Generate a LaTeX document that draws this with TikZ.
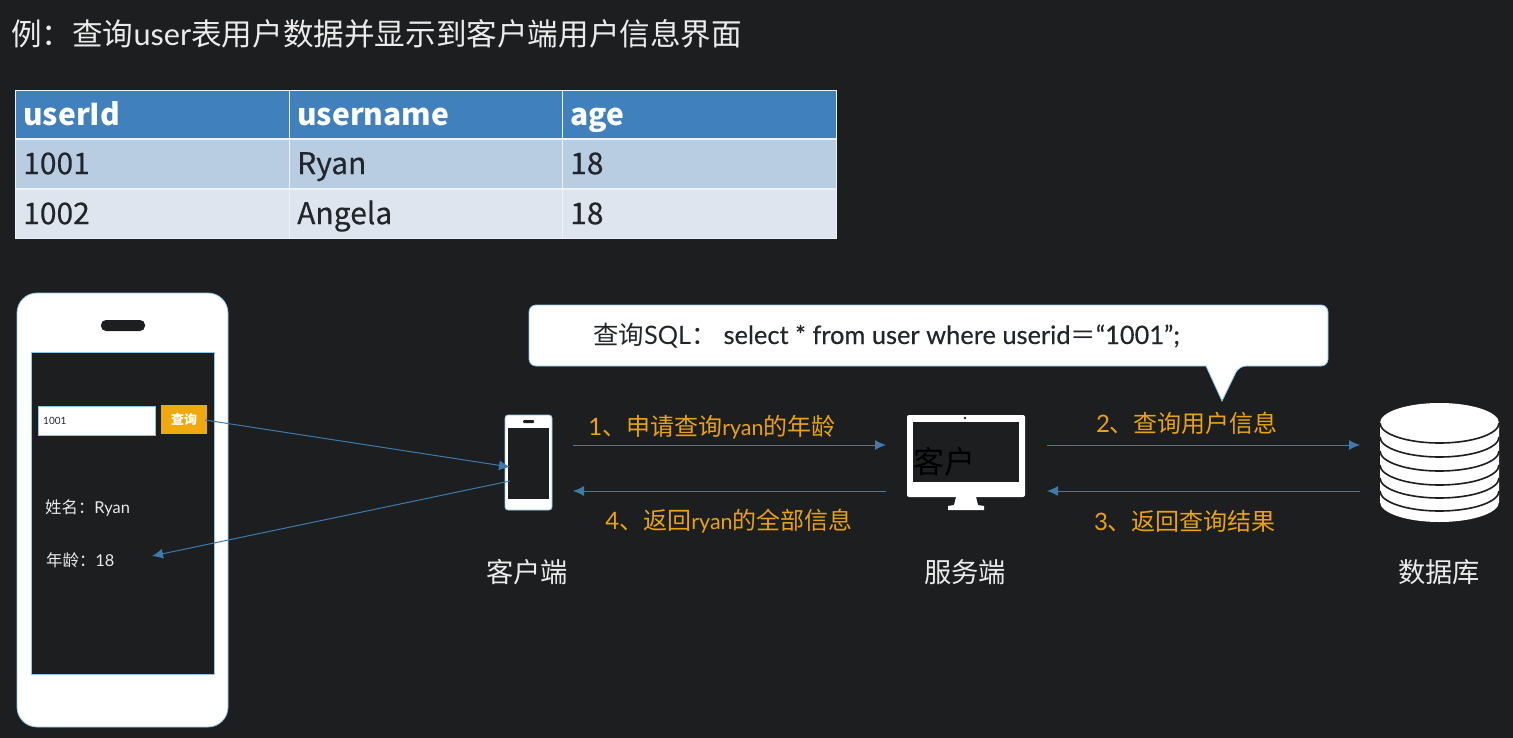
\documentclass[tikz,border=0pt]{standalone}
\usepackage{fontspec}
\setmainfont{Lato}
\newfontfamily\cjk{Noto Sans CJK SC}
\newfontfamily\cjkmed[FakeBold=0.25]{Noto Sans CJK SC}
\newfontfamily\latomed[FakeBold=0.3]{Lato}
\usetikzlibrary{arrows.meta}
\definecolor{bgc}{HTML}{1C1E1F}
\definecolor{hdrc}{HTML}{3F80BD}
\definecolor{rowa}{HTML}{B9CDE2}
\definecolor{rowb}{HTML}{DEE5EE}
\definecolor{linec}{HTML}{3F7AAE}
\definecolor{orangec}{HTML}{E8A214}
\definecolor{btnc}{HTML}{F0A80F}
\definecolor{edgec}{HTML}{8CC6EA}
\definecolor{inkc}{HTML}{22262A}
\tikzset{
  cellbox/.style={anchor=north west,inner ysep=0pt,inner xsep=7pt,align=left,text height=23pt,text depth=3pt,font=\cjkmed\fontsize{30}{30}\selectfont},
  hdrcell/.style={cellbox,fill=hdrc,text=white,text height=24pt,text depth=2pt,font=\cjk\bfseries\fontsize{30}{30}\selectfont},
  rowacell/.style={cellbox,fill=rowa,text=inkc},
  rowbcell/.style={cellbox,fill=rowb,text=inkc},
  shapewhite/.style={fill=white,draw=edgec,line width=0.8pt},
  flow/.style={draw=linec,line width=1pt,-{Latex[length=11pt,width=10pt]}},
  orangelabel/.style={text=orangec,inner sep=0pt,font=\fontsize{24}{24}\selectfont},
  rolelabel/.style={text=white!92!black,inner sep=0pt,font=\cjk\fontsize{27.3}{27.3}\selectfont},
  smalltext/.style={text=white!92!black,inner sep=0pt,anchor=west,font=\fontsize{16.4}{16.4}\selectfont},
}
\newcommand{\ryanword}{{\fontsize{21.5}{21.5}\selectfont ryan}}
\begin{document}
\begin{tikzpicture}[x=1pt,y=-1pt]
\useasboundingbox (0,0) rectangle (1513,738);
\fill[bgc] (0,0) rectangle (1513,738);
% title
\node[anchor=west,inner sep=0pt,text=white!92!black,font=\fontsize{30.6}{30.6}\selectfont] (title) at (11,34) {{\cjk 例：查询}user{\cjk 表用户数据并显示到客户端用户信息界面}};
% table
\fill[white!90!hdrc] (15,90) rectangle (837,239);
\node[hdrcell,text width=259pt,minimum height=47pt] (h1) at (16,91) {userId};
\node[hdrcell,text width=258pt,minimum height=47pt] (h2) at (290,91) {username};
\node[hdrcell,text width=259pt,minimum height=47pt] (h3) at (563,91) {age};
\node[rowacell,text width=259pt,minimum height=48pt] (a1) at (16,140) {1001};
\node[rowacell,text width=258pt,minimum height=48pt] (a2) at (290,140) {Ryan};
\node[rowacell,text width=259pt,minimum height=48pt] (a3) at (563,140) {18};
\node[rowbcell,text width=259pt,minimum height=48pt] (b1) at (16,190) {1002};
\node[rowbcell,text width=258pt,minimum height=48pt] (b2) at (290,190) {Angela};
\node[rowbcell,text width=259pt,minimum height=48pt] (b3) at (563,190) {18};
% big phone
\draw[shapewhite,rounded corners=20pt] (17,293) rectangle (228,727);
\fill[bgc,rounded corners=5pt] (101,320) rectangle (145,331);
\filldraw[fill=bgc,draw=edgec,line width=0.8pt] (31,352) rectangle (214,674);
\node[anchor=north west,fill=white,draw=edgec,line width=1.2pt,minimum width=117pt,minimum height=29pt,inner sep=0pt] (inputbox) at (37.5,406) {};
\node[anchor=west,inner sep=0pt,text=inkc,font=\fontsize{10}{10}\selectfont] (inputtext) at (43,421) {1001};
\node[anchor=north west,fill=btnc,minimum width=46pt,minimum height=29pt,inner sep=0pt,text=white,font=\cjk\bfseries\fontsize{13}{13}\selectfont] (querybtn) at (161,405) {查询};
\node[smalltext] (namelabel) at (45,508) {{\cjk 姓名：}Ryan};
\node[smalltext] (agelabel) at (46,560) {{\cjk 年龄：}18};
% small phone
\draw[shapewhite,rounded corners=3pt] (505,415) rectangle (552,510);
\fill[bgc] (508,428) rectangle (549,499);
\fill[bgc,rounded corners=1pt] (523,420) rectangle (534,423);
\coordinate (phonein) at (510,467);
\coordinate (phoneout) at (510,481);
\coordinate (ageend) at (152,556);
\coordinate (btnstart) at (205,420);
\draw[flow] (btnstart) -- (phonein);
\draw[flow] (phoneout) -- (ageend);
% monitor
\fill[white,rounded corners=2pt] (907,415) rectangle (1025,497);
\fill[white] (956,497) -- (976,497) -- (978,505) -- (984,506) -- (984,510) -- (948,510) -- (948,506) -- (954,505) -- cycle;
\fill[bgc] (913,422) rectangle (1019,482);
\fill[bgc] (965,418) circle (1.3pt);
\node[anchor=west,inner sep=0pt,text=black,font=\cjk\fontsize{31}{31}\selectfont] (servertext) at (913,462) {客户};
% database
\begin{scope}
\fill[white] (1380,423) -- (1380,502) arc[start angle=180,end angle=360,x radius=59.5pt,y radius=20pt] -- (1499,423) arc[start angle=0,end angle=180,x radius=59.5pt,y radius=20pt] -- cycle;
\foreach \yy in {443,457,471,485,498,511}{
  \draw[bgc,line width=1.6pt] (1380,\yy-20) arc[start angle=180,end angle=360,x radius=59.5pt,y radius=20pt];
}
\end{scope}
% callout
\draw[shapewhite,rounded corners=7pt] (529,305) -- (1328,305) -- (1328,366) -- (1239,366) [sharp corners] -- (1222,401) -- (1206,366) [rounded corners=7pt] -- (529,366) -- cycle;
\node[anchor=base west,inner sep=0pt,text=inkc,font=\fontsize{25.4}{25.4}\selectfont] (sqltext) at (593,344) {{\cjk 查询}SQL{\cjk ：}\hspace{7pt}{\latomed select * from user where userid}{\cjk ＝}{\latomed “1001”;}};
% flows
\coordinate (f1a) at (573,445); \coordinate (f1b) at (886,445);
\coordinate (f4a) at (886,491); \coordinate (f4b) at (573,491);
\coordinate (f2a) at (1047,445); \coordinate (f2b) at (1360,445);
\coordinate (f3a) at (1360,491); \coordinate (f3b) at (1047,491);
\draw[flow] (f1a) -- (f1b);
\draw[flow] (f4a) -- (f4b);
\draw[flow] (f2a) -- (f2b);
\draw[flow] (f3a) -- (f3b);
\node[orangelabel] (l1) at (712,427) {1{\cjk 、申请查询}\ryanword{\cjk 的年龄}};
\node[orangelabel] (l4) at (729,521) {4{\cjk 、返回}\ryanword{\cjk 的全部信息}};
\node[orangelabel] (l2) at (1187,423) {2{\cjk 、查询用户信息}};
\node[orangelabel] (l3) at (1185,521) {3{\cjk 、返回查询结果}};
\node[rolelabel] (r1) at (527,572) {客户端};
\node[rolelabel] (r2) at (965,572) {服务端};
\node[rolelabel] (r3) at (1439,572) {数据库};
\end{tikzpicture}
\end{document}
